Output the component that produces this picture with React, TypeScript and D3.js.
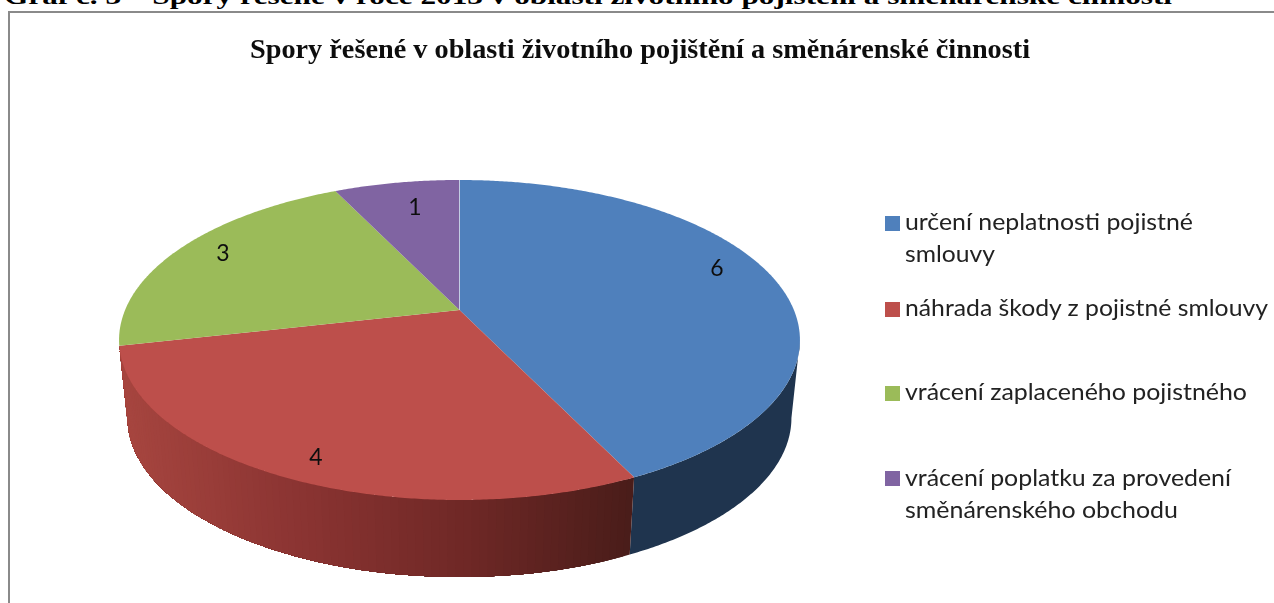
import React from "react";
import * as d3 from "d3";

const categories = [
  "určení neplatnosti pojistné smlouvy",
  "náhrada škody z pojistné smlouvy",
  "vrácení zaplaceného pojistného",
  "vrácení poplatku za provedení směnárenského obchodu",
];
const values = [6, 4, 3, 1];
const topColors = ["#4f80bc", "#bd4f4b", "#9bbb59", "#8064a2"];
const legendLines = [
  ["určení neplatnosti pojistné", "smlouvy"],
  ["náhrada škody z pojistné smlouvy"],
  ["vrácení zaplaceného pojistného"],
  ["vrácení poplatku za provedení", "směnárenského obchodu"],
];
const legendWidths = [[288, 90], [363], [342], [326, 273]];
const legendY = [223, 309, 393, 478];
const legendBaseline = [230, 316, 400, 486];
const heading = "Graf č. 3 – Spory řešené v roce 2013 v oblasti životního pojištění a směnárenské činnosti";
const title = "Spory řešené v oblasti životního pojištění a směnárenské činnosti";
const labelPos: [number, number][] = [[717, 276], [316, 465], [223, 261], [415, 215]];

const cx = 459.5;
const R = 334.4;
const A = 96.25, B = 310, C = -0.1875;

// projective mapping of the pie disc onto the tilted top face
const project = (t: number): [number, number] => {
  const u = Math.sin(t), v = -Math.cos(t), w = 1 + C * v;
  return [cx + (R * u) / w, (A * v + B) / w];
};
const drop = ([x, y]: [number, number]): [number, number] => [cx + (x - cx) * 0.975, 418 + (y - 340) * 0.994];

const arcs = d3.pie<number>().sort(null)(values);
const line = d3.line();
const samples = (a: number, b: number, step = 0.008) => {
  const n = Math.max(2, Math.ceil((b - a) / step));
  return d3.range(n + 1).map((i) => a + ((b - a) * i) / n);
};

const redSide = d3.scaleLinear<string>().domain([125, 300, 470, 630]).range(["#a6453f", "#8b3432", "#6f2826", "#4b1d1a"]);

const visibleMin = Math.acos(-0.1875);
const visibleMax = 2 * Math.PI - visibleMin;

export default function App() {
  const blue = samples(Math.max(arcs[0].startAngle, visibleMin), arcs[0].endAngle).map(project);
  const redStart = arcs[1].startAngle;
  const redEnd = Math.min(arcs[1].endAngle, visibleMax);
  // red side: painted from the far end so each band overlaps the previous one
  const redTs = samples(redStart, redEnd, 0.02);
  const redBand = redTs.slice(0, -1).map((t, k) => {
    const p0 = project(t);
    const pts = samples(t, redEnd, 0.02).map(project);
    const outline: [number, number][] = [...pts, ...pts.slice().reverse().map(drop)];
    return <path key={k} d={line(outline)! + "Z"} fill={redSide(p0[0])} />;
  });
  return (
    <svg width={1274} height={603} style={{ position: "fixed", left: 0, top: 0, background: "#fff" }}>
      <defs>
        <filter id="soft" x="-2%" y="-20%" width="104%" height="140%">
          <feGaussianBlur stdDeviation="0.4" />
        </filter>
      </defs>
      <text x={4} y={4} fontFamily="Liberation Serif" fontWeight="bold" fontSize={24} fill="#000" textLength={1168} lengthAdjust="spacingAndGlyphs">{heading}</text>
      <path d="M1274,12 H9 V603" fill="none" stroke="#8a8a8a" strokeWidth={2} />
      <text x={250} y={58} fontFamily="Liberation Serif" fontWeight="bold" fontSize={28} fill="#111" textLength={780} lengthAdjust="spacingAndGlyphs" filter="url(#soft)">{title}</text>
      <path d={line([...blue, ...blue.slice().reverse().map(drop)])! + "Z"} fill="#1f344e" />
      <g>{redBand}</g>
      {arcs.map((a, i) => (
        <path key={categories[i]} d={line([[cx, B], ...samples(a.startAngle, a.endAngle).map(project)])! + "Z"} fill={topColors[i]} />
      ))}
      <path d={line([[cx, B], project(arcs[0].startAngle)])!} stroke="#c3cde3" strokeWidth={1} fill="none" />
      {values.map((v, i) => (
        <text key={i} x={labelPos[i][0]} y={labelPos[i][1]} textAnchor="middle" fontFamily="Lato" fontSize={23} fill="#111" filter="url(#soft)">{v}</text>
      ))}
      {categories.map((c, i) => (
        <g key={c}>
          <rect x={885} y={legendY[i] - 7} width={15} height={15} fill={topColors[i]} />
          {legendLines[i].map((l, j) => (
            <text key={l} x={905} y={legendBaseline[i] + j * 32} fontFamily="Lato" fontSize={23} fill="#222" textLength={legendWidths[i][j]} lengthAdjust="spacingAndGlyphs" filter="url(#soft)">{l}</text>
          ))}
        </g>
      ))}
    </svg>
  );
}
